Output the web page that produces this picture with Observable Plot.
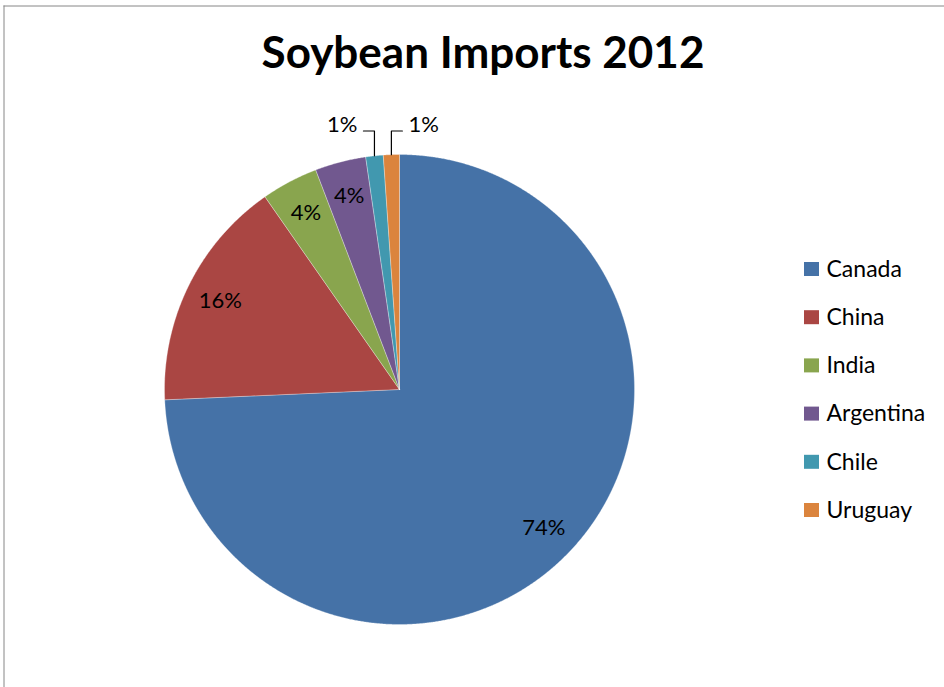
<!DOCTYPE html>
<html>
<head>
<meta charset="utf-8">
<script src="https://cdn.jsdelivr.net/npm/d3@7"></script>
<script src="https://cdn.jsdelivr.net/npm/@observablehq/plot@0.6"></script>
<style>
  html, body { margin: 0; padding: 0; background: #ffffff; }
  #chart svg { display: block; }
</style>
</head>
<body>
<div id="chart"></div>
<script>
// ---- data ----
const countries = ["Canada", "China", "India", "Argentina", "Chile", "Uruguay"];
const shares = [74.3, 16.0, 3.9, 3.5, 1.2, 1.1];
const shareLabels = ["74%", "16%", "4%", "4%", "1%", "1%"];
const colors = ["#4572A7", "#AA4643", "#89A54E", "#71588F", "#4198AF", "#DB843D"];
const labelPlacement = ["inside", "inside", "inside", "inside", "outsideLeft", "outsideRight"];
const title = "Soybean Imports 2012";

// ---- layout (pixels) ----
const W = 944, H = 687;
const CX = 399, CY = 389, R = 235;
const px2x = (px) => (px - CX) / R;
const px2y = (py) => (CY - py) / R;
const FONT = "Lato, 'Open Sans', sans-serif";

// ---- pie geometry from data ----
const arcs = d3.pie().sort(null).value((d) => d.share)(
  countries.map((c, i) => ({ name: c, share: shares[i], label: shareLabels[i], place: labelPlacement[i] }))
);
const pt = (a, r) => [r * Math.sin(a), r * Math.cos(a)];

const slicePts = [];
for (const a of arcs) {
  const n = Math.max(2, Math.ceil((a.endAngle - a.startAngle) / (Math.PI / 720)));
  slicePts.push({ name: a.data.name, x: 0, y: 0 });
  for (let k = 0; k <= n; k++) {
    const ang = a.startAngle + (a.endAngle - a.startAngle) * k / n;
    const [x, y] = pt(ang, 1);
    slicePts.push({ name: a.data.name, x, y });
  }
  slicePts.push({ name: a.data.name, x: 0, y: 0 });
}

// labels
const insideLabels = [];
const leftLabels = [];
const rightLabels = [];
const leaders = [];
const elbowY = px2y(130.5);
const hLen = 11 / R;
for (const a of arcs) {
  const mid = (a.startAngle + a.endAngle) / 2;
  if (a.data.place === "inside") {
    const [x, y] = pt(mid, 0.85);
    insideLabels.push({ x, y, text: a.data.label });
  } else {
    const [x0, y0] = pt(mid, 1);
    const dir = a.data.place === "outsideLeft" ? -1 : 1;
    const xe = x0 + dir * hLen;
    leaders.push({ id: a.data.name, x: x0, y: y0 });
    leaders.push({ id: a.data.name, x: x0, y: elbowY });
    leaders.push({ id: a.data.name, x: xe, y: elbowY });
    const lab = { x: xe + dir * 6 / R, y: elbowY + 6.5 / R, text: a.data.label };
    (dir < 0 ? leftLabels : rightLabels).push(lab);
  }
}

// legend
const legendTop = 269, legendStep = 48.2;
const legend = countries.map((c, i) => ({
  name: c,
  x1: px2x(804), x2: px2x(819),
  y1: px2y(legendTop + i * legendStep - 7), y2: px2y(legendTop + i * legendStep + 7),
  tx: px2x(826), ty: px2y(legendTop + i * legendStep)
}));

const chart = Plot.plot({
  width: W,
  height: H,
  margin: 0,
  style: { fontFamily: FONT, background: "#ffffff" },
  x: { domain: [px2x(0), px2x(W)], range: [0, W], axis: null },
  y: { domain: [px2y(H), px2y(0)], range: [H, 0], axis: null },
  color: { domain: countries, range: colors },
  marks: [
    // outer border
    Plot.ruleY([px2y(5.5)], { x1: px2x(3.5), x2: px2x(W + 10), stroke: "#868686", strokeWidth: 1 }),
    Plot.ruleX([px2x(3.5)], { y1: px2y(5.5), y2: px2y(H + 10), stroke: "#868686", strokeWidth: 1 }),
    // slices
    Plot.line(slicePts, { x: "x", y: "y", z: "name", fill: "name", stroke: "#ffffff", strokeOpacity: 0.5, strokeWidth: 0.6, curve: "linear-closed" }),
    // leader lines
    Plot.line(leaders, { x: "x", y: "y", z: "id", stroke: "#000000", strokeWidth: 1.2 }),
    // data labels
    Plot.text(insideLabels, { x: "x", y: "y", text: "text", fontSize: 22, fill: "#000000" }),
    Plot.text(leftLabels, { x: "x", y: "y", text: "text", fontSize: 22, fill: "#000000", textAnchor: "end" }),
    Plot.text(rightLabels, { x: "x", y: "y", text: "text", fontSize: 22, fill: "#000000", textAnchor: "start" }),
    // title
    Plot.text([title], { x: px2x(482.5), y: px2y(53), text: (d) => d, fontSize: 44, fontWeight: "bold", fill: "#000000" }),
    // legend
    Plot.rect(legend, { x1: "x1", x2: "x2", y1: "y1", y2: "y2", fill: "name" }),
    Plot.text(legend, { x: "tx", y: "ty", text: "name", textAnchor: "start", fontSize: 23, fill: "#000000" })
  ]
});

document.getElementById("chart").appendChild(chart);
</script>
</body>
</html>
